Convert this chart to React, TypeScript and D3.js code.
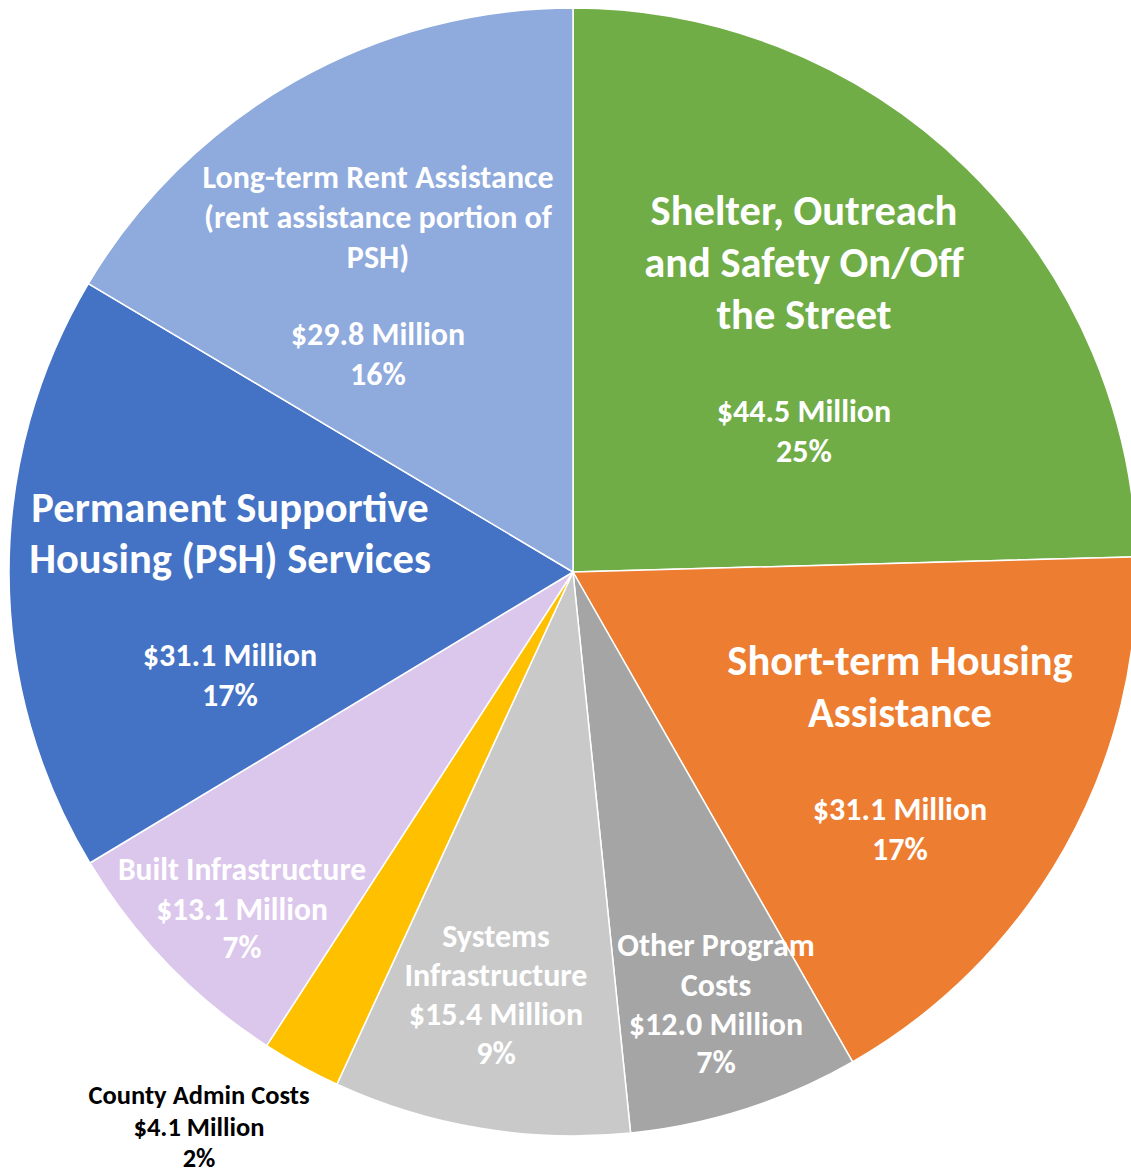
import React from "react";
import * as d3 from "d3";

const categories = [
  "Shelter, Outreach and Safety On/Off the Street",
  "Short-term Housing Assistance",
  "Other Program Costs",
  "Systems Infrastructure",
  "County Admin Costs",
  "Built Infrastructure",
  "Permanent Supportive Housing (PSH) Services",
  "Long-term Rent Assistance (rent assistance portion of PSH)",
];
const amounts = [44.5, 31.1, 12.0, 15.4, 4.1, 13.1, 31.1, 29.8];
const amountLabels = ["$44.5 Million", "$31.1 Million", "$12.0 Million", "$15.4 Million", "$4.1 Million", "$13.1 Million", "$31.1 Million", "$29.8 Million"];
const percentLabels = ["25%", "17%", "7%", "9%", "2%", "7%", "17%", "16%"];
const titleLines = [
  ["Shelter, Outreach", "and Safety On/Off", "the Street"],
  ["Short-term Housing", "Assistance"],
  ["Other Program", "Costs"],
  ["Systems", "Infrastructure"],
  ["County Admin Costs"],
  ["Built Infrastructure"],
  ["Permanent Supportive", "Housing (PSH) Services"],
  ["Long-term Rent Assistance", "(rent assistance portion of", "PSH)"],
];
const colors = ["#70AD47", "#ED7D31", "#A5A5A5", "#C9C9C9", "#FFC000", "#DCC7EC", "#4472C4", "#8FAADC"];

// layout of label blocks: x center, y of first line center, title size, value size, line gaps
const layout = [
  { x: 804, y: 210, ts: 42.5, vs: 32, tg: 52, gap: 97, vg: 40, fill: "#fff" },
  { x: 900, y: 660, ts: 42.5, vs: 32, tg: 52, gap: 97, vg: 40, fill: "#fff" },
  { x: 716, y: 945, ts: 32, vs: 32, tg: 40, gap: 39, vg: 38, fill: "#fff" },
  { x: 496, y: 936, ts: 32, vs: 32, tg: 39, gap: 39, vg: 39, fill: "#fff" },
  { x: 199, y: 1095, ts: 26.5, vs: 26.5, tg: 32, gap: 32, vg: 31, fill: "#000" },
  { x: 242, y: 869, ts: 31.5, vs: 31.5, tg: 39, gap: 40, vg: 38, fill: "#fff" },
  { x: 230, y: 507, ts: 42.5, vs: 32, tg: 51, gap: 97, vg: 40, fill: "#fff" },
  { x: 378, y: 177, ts: 32, vs: 32, tg: 40, gap: 77, vg: 40, fill: "#fff" },
];

const W = 1131;
const H = 1173;
const CX = 573;
const CY = 572;
const R = 564;

export default function App() {
  const pie = d3.pie<number>().sort(null).value((d) => d)(amounts);
  const arc = d3.arc<d3.PieArcDatum<number>>().innerRadius(0).outerRadius(R);
  const font = "Carlito, Calibri, Lato, 'Open Sans', sans-serif";
  return (
    <svg width={W} height={H} style={{ position: "absolute", left: 0, top: 0, background: "#fff" }}>
      <g transform={`translate(${CX},${CY})`}>
        {pie.map((p, i) => (
          <path key={categories[i]} d={arc(p) || ""} fill={colors[i]} stroke="#fff" strokeWidth={1.5} strokeLinejoin="round" />
        ))}
      </g>
      {layout.map((l, i) => {
        const lines = titleLines[i];
        const lastTitleY = l.y + (lines.length - 1) * l.tg;
        const amtY = lastTitleY + l.gap;
        return (
          <g key={i} fill={l.fill} fontFamily={font} fontWeight={700} textAnchor="middle" dominantBaseline="central">
            {lines.map((t, j) => (
              <text key={j} x={l.x} y={l.y + j * l.tg} fontSize={l.ts}>{t}</text>
            ))}
            <text x={l.x} y={amtY} fontSize={l.vs}>{amountLabels[i]}</text>
            <text x={l.x} y={amtY + l.vg} fontSize={l.vs}>{percentLabels[i]}</text>
          </g>
        );
      })}
    </svg>
  );
}
